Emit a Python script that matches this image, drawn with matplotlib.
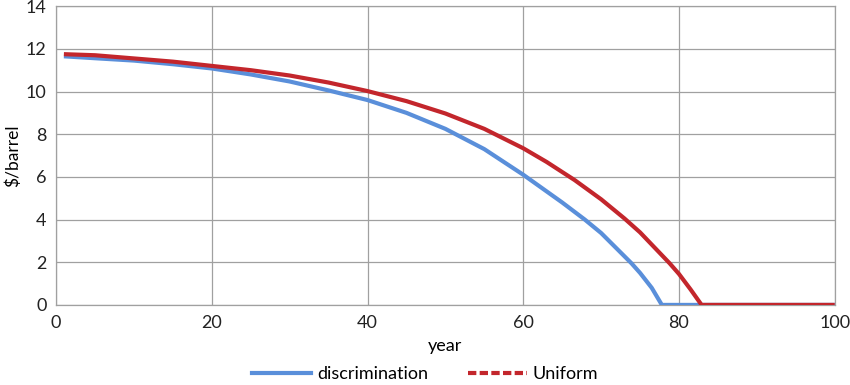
import matplotlib
matplotlib.use("Agg")
import matplotlib.pyplot as plt
from matplotlib.lines import Line2D

years_disc = [1, 5, 10, 15, 20, 25, 30, 35, 40, 45, 50, 55, 60, 65, 67.9, 70, 73.9, 75, 76.5, 77.8, 100]
disc = [11.65, 11.56, 11.45, 11.28, 11.08, 10.8, 10.47, 10.05, 9.6, 9.0, 8.25, 7.3, 6.1, 4.8, 4.0, 3.37, 1.95, 1.5, 0.8, 0.0, 0.0]

years_uni = [1, 5, 10, 15, 20, 25, 30, 35, 40, 45, 50, 55, 60, 63, 66.6, 70, 73, 75, 78.8, 80, 81.5, 82.9, 100]
uni = [11.75, 11.7, 11.55, 11.4, 11.2, 11.0, 10.75, 10.42, 10.02, 9.55, 8.97, 8.25, 7.34, 6.7, 5.85, 4.95, 4.05, 3.4, 1.95, 1.45, 0.72, 0.0, 0.0]

xticks = [0, 20, 40, 60, 80, 100]
yticks = [0, 2, 4, 6, 8, 10, 12, 14]

plt.rcParams['font.family'] = ['Lato', 'DejaVu Sans']
fig = plt.figure(figsize=(8.5, 3.85), dpi=100)
ax = fig.add_axes([0.066, 0.208, 0.916, 0.776])

blue = '#5A8FDA'
red = '#C3262C'
ax.plot(years_disc, disc, color=blue, lw=3, solid_capstyle='butt', solid_joinstyle='round', zorder=3)
ax.plot(years_uni, uni, color=red, lw=3, solid_capstyle='butt', solid_joinstyle='round', zorder=4)

ax.set_xlim(0, 100)
ax.set_ylim(0, 14)
ax.set_xticks(xticks)
ax.set_yticks(yticks)
ax.grid(True, color='#A0A0A0', lw=0.9)
ax.set_axisbelow(True)
for s in ax.spines.values():
    s.set_color('#A0A0A0')
    s.set_linewidth(0.9)
ax.tick_params(length=0, labelsize=13, colors='#222222', pad=7)
ax.set_xlabel('year', fontsize=13, labelpad=5)
ax.set_ylabel('$/barrel', fontsize=12.5, labelpad=3)

handles = [Line2D([], [], color=blue, lw=3),
           Line2D([], [], color=red, lw=3, ls=(0, (2, 0.8)))]
fig.legend(handles, ['discrimination', 'Uniform'], loc='center', bbox_to_anchor=(0.5, 0.028),
           ncol=2, frameon=False, fontsize=13, handlelength=3.3, handletextpad=0.3,
           columnspacing=2.2)

fig.savefig('out.png', dpi=100)
